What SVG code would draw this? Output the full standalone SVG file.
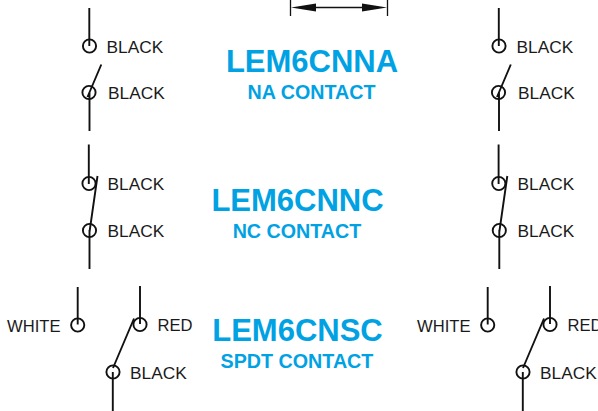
<svg xmlns="http://www.w3.org/2000/svg" width="598" height="411" viewBox="0 0 598 411">
<style>
.w{fill:none;stroke:#111;stroke-width:1.9}
.d{fill:none;stroke:#111;stroke-width:1.3}
text{font-family:"Liberation Sans",Arial,sans-serif}
.l{font-size:17.300px;fill:#1a1a1a}
.x{font-size:16.600px}
.t{font-size:31px;font-weight:bold;fill:#00a2e3;text-anchor:middle}
.s{font-size:19.700px;font-weight:bold;fill:#00a2e3;text-anchor:middle}
</style>
<defs>
<g id="na">
<path class="w" d="M89.300 8V46M89.500 92V131M101.300 64.500L87.500 97"/>
<circle class="w" cx="89.500" cy="46" r="6.600"/>
<circle class="w" cx="89" cy="92.500" r="6.600"/>
</g>
<g id="nc">
<path class="w" d="M88.800 144.500V184M89.500 230V269M97.500 176L89.500 232"/>
<circle class="w" cx="89" cy="183.500" r="6.600"/>
<circle class="w" cx="89.500" cy="230.500" r="6.600"/>
</g>
<g id="spdt">
<path class="w" d="M77.700 287V324.500M140 286V324M112.800 372V411M134 318.500L113 368"/>
<circle class="w" cx="77.700" cy="325" r="6.600"/>
<circle class="w" cx="140" cy="324.500" r="6.600"/>
<circle class="w" cx="113" cy="372" r="6.600"/>
</g>
</defs>
<g id="connectors">
<use href="#na"/>
<use href="#na" x="409.500"/>
<use href="#nc"/>
<use href="#nc" x="409.800"/>
<use href="#spdt"/>
<use href="#spdt" x="410"/>
</g>
<g id="dimension">
<path class="d" d="M290.500 0V16M387.500 0V16M300 7.500H378"/>
<path fill="#111" d="M291 7.500L316 3.500V11.500ZM387 7.500L362 3.500V11.500Z"/>
</g>
<g id="n-lem6cnna"><text class="t" x="312" y="72">LEM6CNNA</text><text class="s" x="311.500" y="99">NA CONTACT</text></g>
<g id="n-lem6cnnc"><text class="t" x="297.500" y="211">LEM6CNNC</text><text class="s" x="297" y="238">NC CONTACT</text></g>
<g id="n-lem6cnsc"><text class="t" x="297.500" y="341">LEM6CNSC</text><text class="s" x="297" y="368">SPDT CONTACT</text></g>
<g id="labels-left">
<text class="l" x="106.500" y="53">BLACK</text><text class="l" x="108" y="99">BLACK</text>
<text class="l" x="107.500" y="190">BLACK</text><text class="l" x="107.500" y="237">BLACK</text>
<text class="l x" x="7" y="332">WHITE</text><text class="l x" x="157.500" y="331">RED</text><text class="l" x="130" y="379">BLACK</text>
</g>
<g id="labels-right">
<text class="l" x="516.500" y="53">BLACK</text><text class="l" x="518" y="99">BLACK</text>
<text class="l" x="517.500" y="190">BLACK</text><text class="l" x="517.500" y="237">BLACK</text>
<text class="l x" x="417" y="332">WHITE</text><text class="l x" x="567.500" y="331">RED</text><text class="l" x="540" y="379">BLACK</text>
</g>
</svg>
